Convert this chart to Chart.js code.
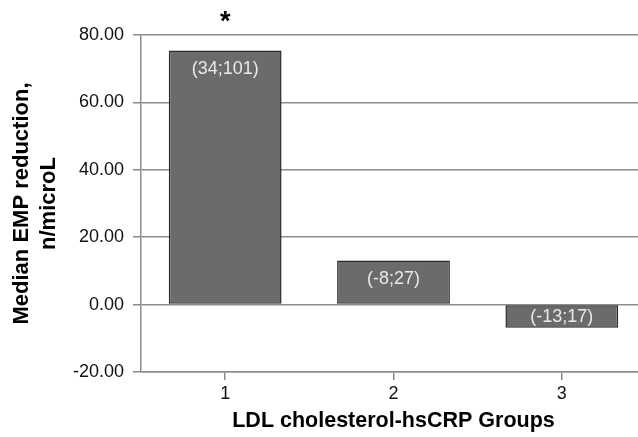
<!DOCTYPE html>
<html lang="en">
<head>
  <meta charset="UTF-8" />
  <title>Median EMP reduction by LDL cholesterol-hsCRP group</title>
  <script src="https://cdn.jsdelivr.net/npm/chart.js@4.4.1/dist/chart.umd.min.js"></script>
  <style>
    html, body { margin: 0; padding: 0; background: #fff; overflow: hidden; }
    #wrap { width: 638px; height: 437px; overflow: hidden; }
    canvas { display: block; }
  </style>
</head>
<body>
  <div id="wrap">
    <canvas id="empChart" width="660" height="437"></canvas>
  </div>

  <script>
    // values
    const groups = ['1', '2', '3'];
    const medians = [75.4, 13.1, -6.9];
    const ranges = ['(34;101)', '(-8;27)', '(-13;17)'];
    const marks = ['*', '', ''];
    const yTicks = [-20, 0, 20, 40, 60, 80];

    const FONT = "'Liberation Sans', Arial, sans-serif";
    const GRID = '#8c8c8c';

    // range labels inside the bars and the significance star above
    const barLabels = {
      id: 'barLabels',
      afterDatasetsDraw(chart) {
        const ctx = chart.ctx;
        const meta = chart.getDatasetMeta(0);
        ctx.save();
        ctx.textAlign = 'center';
        ctx.textBaseline = 'middle';
        meta.data.forEach((bar, i) => {
          const top = Math.min(bar.y, bar.base);
          const bottom = Math.max(bar.y, bar.base);
          const y = Math.min(top + 19, (top + bottom) / 2);
          ctx.fillStyle = '#e8e8e8';
          ctx.font = '18px ' + FONT;
          ctx.fillText(ranges[i], bar.x, y);
          if (marks[i]) {
            ctx.fillStyle = '#000';
            ctx.font = 'bold 27px ' + FONT;
            ctx.fillText(marks[i], bar.x, top - 28);
          }
        });
        ctx.restore();
      }
    };

    const ctx = document.getElementById('empChart').getContext('2d');
    new Chart(ctx, {
      type: 'bar',
      data: {
        labels: groups,
        datasets: [{
          data: medians,
          backgroundColor: '#6b6b6b',
          borderColor: '#2a2a2a',
          borderWidth: 1.5,
          borderSkipped: false,
          categoryPercentage: 1,
          barPercentage: 0.67
        }]
      },
      options: {
        responsive: false,
        animation: false,
        layout: { padding: { top: 35, left: 6, right: 14, bottom: 0 } },
        plugins: {
          legend: { display: false },
          tooltip: { enabled: false }
        },
        scales: {
          x: {
            afterFit(scale) { scale.height = 65; },
            grid: { display: true, drawOnChartArea: false, drawTicks: true, tickLength: 8, offset: false, color: GRID, lineWidth: 1.5 },
            border: { display: true, color: GRID, width: 1.5 },
            ticks: { color: '#111', font: { family: FONT, size: 18 }, padding: 3 },
            title: {
              display: true,
              text: 'LDL cholesterol-hsCRP Groups',
              color: '#000',
              font: { family: FONT, size: 21.5, weight: 'bold' },
              padding: { top: 0, bottom: 3 }
            }
          },
          y: {
            min: -20,
            max: 80,
            afterFit(scale) { scale.width = 135; },
            afterBuildTicks(scale) { scale.ticks = yTicks.map(v => ({ value: v })); },
            grid: { color: GRID, lineWidth: 1.5, drawTicks: true, tickLength: 8 },
            border: { display: true, color: GRID, width: 1.5 },
            ticks: {
              color: '#111',
              font: { family: FONT, size: 18 },
              padding: 9,
              callback: v => Number(v).toFixed(2)
            },
            title: {
              display: true,
              text: ['Median EMP reduction,', 'n/microL'],
              color: '#000',
              font: { family: FONT, size: 22, weight: 'bold', lineHeight: 1.22 },
              padding: { top: 3, bottom: 0 }
            }
          }
        }
      },
      plugins: [barLabels]
    });
  </script>
</body>
</html>
